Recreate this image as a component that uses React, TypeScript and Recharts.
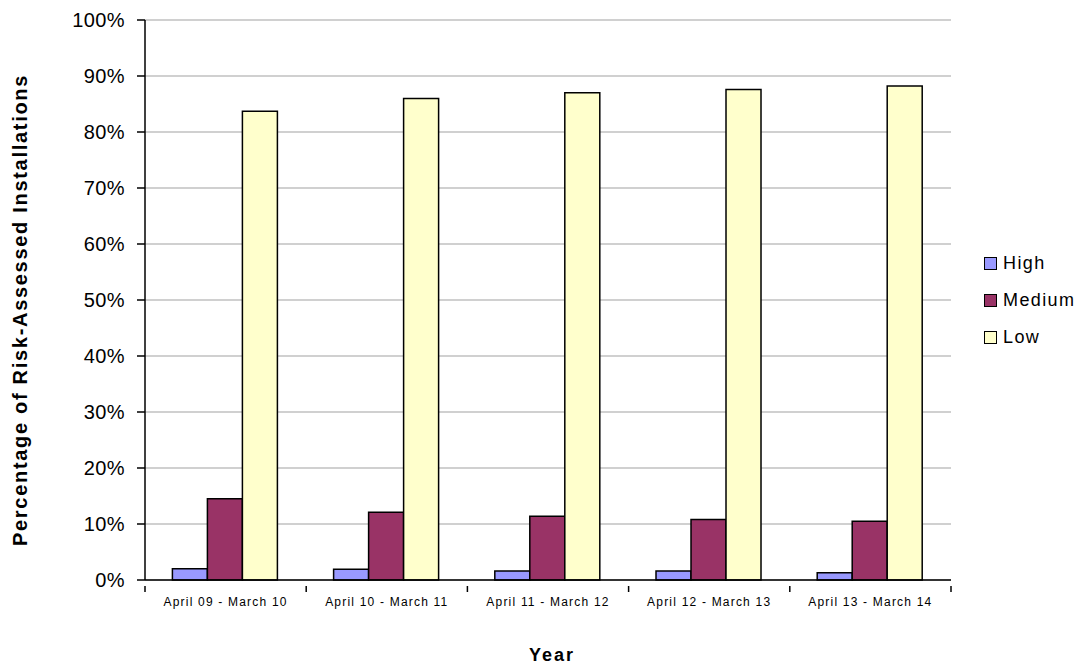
import { Bar, BarChart, CartesianGrid, Label, Legend, XAxis, YAxis } from "recharts";

const years = [
  "April 09 - March 10",
  "April 10 - March 11",
  "April 11 - March 12",
  "April 12 - March 13",
  "April 13 - March 14",
];
const high = [2.0, 1.9, 1.6, 1.6, 1.3];
const medium = [14.5, 12.1, 11.4, 10.8, 10.5];
const low = [83.7, 86.0, 87.0, 87.6, 88.2];
const yTicks = [0, 10, 20, 30, 40, 50, 60, 70, 80, 90, 100];

const data = years.map((year, i) => ({ year, high: high[i], medium: medium[i], low: low[i] }));

const series = [
  { key: "high", name: "High", fill: "#9999FF" },
  { key: "medium", name: "Medium", fill: "#993366" },
  { key: "low", name: "Low", fill: "#FFFFCC" },
];

const font = "'Liberation Sans', Arial, sans-serif";
const plotLeft = 145;
const plotRight = 951;
const halfBand = (plotRight - plotLeft) / years.length / 2;

// category label plus Excel-style tick marks on the category boundaries
function YearTick(props: any) {
  const { x, y, payload, index } = props;
  const axisY = y - 12;
  return (
    <g>
      <line x1={x - halfBand} x2={x - halfBand} y1={axisY} y2={axisY + 6} stroke="#000" strokeWidth={1.5} />
      {index === years.length - 1 && (
        <line x1={x + halfBand} x2={x + halfBand} y1={axisY} y2={axisY + 6} stroke="#000" strokeWidth={1.5} />
      )}
      <text
        x={x}
        y={y}
        dy={8}
        textAnchor="middle"
        style={{ fontFamily: font, fontSize: 12, letterSpacing: 1.2, fill: "#000" }}
      >
        {payload.value}
      </text>
    </g>
  );
}

function YTitle(props: any) {
  const { viewBox } = props;
  const cy = viewBox.y + viewBox.height / 2 + 10;
  return (
    <text
      transform={`translate(27, ${cy}) rotate(-90)`}
      textAnchor="middle"
      style={{ fontFamily: font, fontSize: 20, fontWeight: "bold", letterSpacing: 1.7, fill: "#000" }}
    >
      Percentage of Risk-Assessed Installations
    </text>
  );
}

function LegendBox() {
  return (
    <div style={{ fontFamily: font, fontSize: 18, letterSpacing: 1.4, color: "#000" }}>
      {series.map((s) => (
        <div key={s.key} style={{ display: "flex", alignItems: "center", height: 37 }}>
          <span
            style={{
              width: 11,
              height: 11,
              background: s.fill,
              border: "1.5px solid #000",
              marginRight: 6,
              display: "inline-block",
            }}
          />
          {s.name}
        </div>
      ))}
    </div>
  );
}

export default function App() {
  return (
    <div style={{ position: "absolute", left: 0, top: 0, background: "#fff" }}>
      <BarChart
        width={1085}
        height={665}
        data={data}
        margin={{ top: 20, right: 34, bottom: 55, left: 0 }}
        barCategoryGap="17%"
        barGap={0}
      >
        <CartesianGrid vertical={false} stroke="#c0c0c0" strokeWidth={1.5} />
        <XAxis
          dataKey="year"
          tickLine={false}
          axisLine={{ stroke: "#000", strokeWidth: 1.5 }}
          tick={<YearTick />}
          tickMargin={12}
          interval={0}
          height={30}
        >
          <Label
            value="Year"
            position="bottom"
            offset={38}
            dx={4}
            style={{ fontFamily: font, fontSize: 18, fontWeight: "bold", letterSpacing: 2, fill: "#000" }}
          />
        </XAxis>
        <XAxis
          xAxisId="top"
          orientation="top"
          dataKey="year"
          tick={false}
          tickLine={false}
          axisLine={{ stroke: "#808080", strokeWidth: 1.5 }}
          height={0}
        />
        <YAxis
          domain={[0, 100]}
          ticks={yTicks}
          tickFormatter={(v) => `${v}%`}
          width={plotLeft}
          axisLine={{ stroke: "#000", strokeWidth: 1.5 }}
          tickLine={{ stroke: "#000", strokeWidth: 1.5 }}
          tickSize={8}
          tickMargin={12}
          tick={{ fontFamily: font, fontSize: 20, letterSpacing: 0.4, fill: "#000" }}
        >
          <Label content={<YTitle />} />
        </YAxis>
        <YAxis
          yAxisId="right"
          orientation="right"
          tick={false}
          tickLine={false}
          axisLine={{ stroke: "#808080", strokeWidth: 1.5 }}
          width={0}
        />
        <Legend
          layout="vertical"
          align="right"
          verticalAlign="middle"
          content={() => <LegendBox />}
          wrapperStyle={{ right: 0, left: 984, top: 245, width: 100 }}
        />
        {series.map((s) => (
          <Bar
            key={s.key}
            dataKey={s.key}
            name={s.name}
            fill={s.fill}
            stroke="#000"
            strokeWidth={1.5}
            isAnimationActive={false}
          />
        ))}
      </BarChart>
    </div>
  );
}
